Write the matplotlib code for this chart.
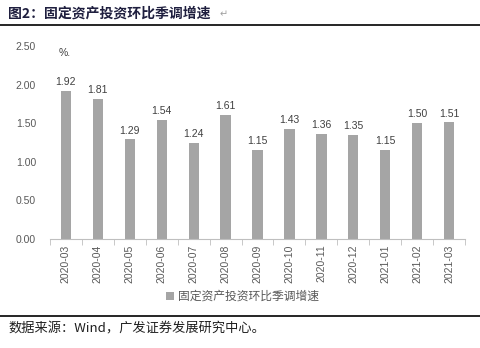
import matplotlib
matplotlib.use("Agg")
import matplotlib.pyplot as plt
import numpy as np

plt.rcParams['font.family'] = ['Noto Sans CJK SC', 'DejaVu Sans']

months = ["2020-03", "2020-04", "2020-05", "2020-06", "2020-07", "2020-08", "2020-09",
          "2020-10", "2020-11", "2020-12", "2021-01", "2021-02", "2021-03"]
values = [1.92, 1.81, 1.29, 1.54, 1.24, 1.61, 1.15, 1.43, 1.36, 1.35, 1.15, 1.50, 1.51]
series_name = "固定资产投资环比季调增速"
yticks = [0.0, 0.5, 1.0, 1.5, 2.0, 2.5]

num_font = "Liberation Sans"

fig = plt.figure(figsize=(4.8, 3.48), dpi=100)
ax = fig.add_axes([0.104, 0.313, 0.865, 0.555])

x = np.arange(len(months))
bars = ax.bar(x, values, width=0.32, color="#A5A5A5", label=series_name)
for xi, v in zip(x, values):
    ax.text(xi, v + 0.05, f"{v:.2f}", ha="center", va="bottom", fontsize=7.5,
            color="#404040", family=num_font)

ax.set_ylim(0, 2.5)
ax.set_yticks(yticks)
ax.set_yticklabels([f"{t:.2f}" for t in yticks], fontsize=7.5, color="#595959",
                   family=num_font)
ax.set_xlim(-0.5, len(months) - 0.5)
ax.set_xticks(x)
ax.set_xticklabels(months, rotation=90, fontsize=7.5, color="#595959", family=num_font)
ax.tick_params(axis="y", length=0, pad=10)
ax.tick_params(axis="x", length=0, pad=4)
ax.set_xticks(np.arange(-0.5, len(months)), minor=True)
ax.tick_params(axis="x", which="minor", length=4, color="#BFBFBF")
for s in ["top", "right", "left"]:
    ax.spines[s].set_visible(False)
ax.spines["bottom"].set_color("#BFBFBF")

ax.text(0.02, 0.99, "%.", transform=ax.transAxes, fontsize=7.5, color="#404040",
        va="top", family=num_font)

leg = fig.legend(handles=[bars], labels=[series_name], loc="center",
                 bbox_to_anchor=(0.505, 0.148), frameon=False, fontsize=8.5,
                 handlelength=0.7, handleheight=0.7, handletextpad=0.3)
for t in leg.get_texts():
    t.set_color("#595959")

fig.text(0.017, 0.962, "图2：固定资产投资环比季调增速", fontsize=10, fontweight="heavy",
         color="#1F1F3F", va="center")
fig.text(0.458, 0.958, "↵", fontsize=7, color="#A0A0A0", va="center", family="DejaVu Sans")
fig.add_artist(plt.Line2D([0, 1], [0.928, 0.928], color="black", lw=1.2,
                          transform=fig.transFigure))
fig.add_artist(plt.Line2D([0, 1], [0.092, 0.092], color="black", lw=1.2,
                          transform=fig.transFigure))
fig.text(0.017, 0.055, "数据来源：Wind，广发证券发展研究中心。", fontsize=9.5,
         color="#1F1F1F", va="center")

fig.savefig("out.png", dpi=100)
